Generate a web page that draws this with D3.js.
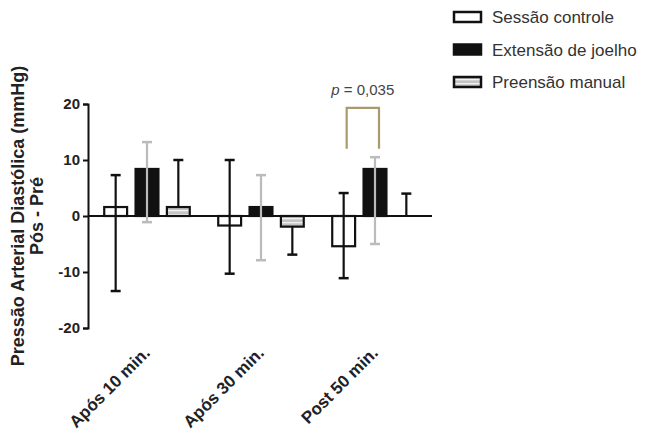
<!DOCTYPE html>
<html>
<head>
<meta charset="utf-8">
<script src="https://d3js.org/d3.v7.min.js"></script>
<style>
  body { margin: 0; background: #fff; }
  text { font-family: Arial, "Liberation Sans", sans-serif; }
</style>
</head>
<body>
<svg width="650" height="436"></svg>
<script>
var svg = d3.select("svg"),
    width = +svg.attr("width"),
    height = +svg.attr("height");

// data
var groups = ["Após 10 min.", "Após 30 min.", "Post 50 min."];
var series = ["Sessão controle", "Extensão de joelho", "Preensão manual"];

var controle = [1.6, -1.7, -5.4],
    controleLow = [-13.4, -10.3, -11.1],
    controleHigh = [7.3, 10.0, 4.1];

var extensao = [8.4, 1.6, 8.4],
    extensaoLow = [-1.1, -7.9, -5.0],
    extensaoHigh = [13.2, 7.3, 10.5];

var preensao = [1.6, -1.9, 0],
    preensaoLow = [null, -6.9, null],
    preensaoHigh = [10.0, null, 4.0];

var yTicks = [-20, -10, 0, 10, 20];
var bracket = [12, 19.3];   // significance bracket, legs from 12 up to 19.3
var pText = "0,035";

var fills = ["#fff", "#111", "url(#stripes)"];
var errColors = ["#111", "#bbb", "#111"];

var defs = svg.append("defs");
var pat = defs.append("pattern")
    .attr("id", "stripes")
    .attr("patternUnits", "userSpaceOnUse")
    .attr("width", 6)
    .attr("height", 4);
pat.append("rect").attr("width", 6).attr("height", 4).attr("fill", "#c4c4c4");
pat.append("rect").attr("y", 2).attr("width", 6).attr("height", 1.3).attr("fill", "#f2f2f2");

var y = d3.scaleLinear()
    .domain([-20, 20])
    .range([328, 104]);

var x = d3.scaleBand()
    .domain(groups)
    .range([90, 432]);

var xSub = d3.scaleBand()
    .domain(series)
    .range([-47, 47])
    .paddingInner(0.27)
    .paddingOuter(0.135);

var rows = groups.map(function(g, i) {
  return [
    {g: g, s: series[0], v: controle[i], lo: controleLow[i], hi: controleHigh[i]},
    {g: g, s: series[1], v: extensao[i], lo: extensaoLow[i], hi: extensaoHigh[i]},
    {g: g, s: series[2], v: preensao[i], lo: preensaoLow[i], hi: preensaoHigh[i]}
  ];
});
var flat = [].concat.apply([], rows);

function cx(d) { return x(d.g) + x.bandwidth() / 2 + xSub(d.s) + xSub.bandwidth() / 2; }

// zero line
svg.append("line")
    .attr("x1", 88).attr("x2", 432)
    .attr("y1", y(0)).attr("y2", y(0))
    .attr("stroke", "#111")
    .attr("stroke-width", 2);

// bars
svg.append("g").selectAll("rect")
  .data(flat.filter(function(d) { return d.v != 0; }))
  .enter().append("rect")
    .attr("x", function(d) { return cx(d) - xSub.bandwidth() / 2; })
    .attr("width", xSub.bandwidth())
    .attr("y", function(d) { return y(Math.max(0, d.v)); })
    .attr("height", function(d) { return Math.abs(y(d.v) - y(0)); })
    .attr("fill", function(d) { return fills[series.indexOf(d.s)]; })
    .attr("stroke", "#111")
    .attr("stroke-width", 2.2);

// error bars
var eb = svg.append("g").selectAll("g")
  .data(flat)
  .enter().append("g")
    .attr("stroke", function(d) { return errColors[series.indexOf(d.s)]; })
    .attr("stroke-width", 2.2);

eb.append("line")
    .attr("x1", cx).attr("x2", cx)
    .attr("y1", function(d) { return y(d.hi != null ? d.hi : d.v); })
    .attr("y2", function(d) { return y(d.lo != null ? d.lo : d.v); });

eb.filter(function(d) { return d.hi != null; }).append("line")
    .attr("x1", function(d) { return cx(d) - 5; })
    .attr("x2", function(d) { return cx(d) + 5; })
    .attr("y1", function(d) { return y(d.hi); })
    .attr("y2", function(d) { return y(d.hi); })
    .attr("stroke-width", 2.5);

eb.filter(function(d) { return d.lo != null; }).append("line")
    .attr("x1", function(d) { return cx(d) - 5; })
    .attr("x2", function(d) { return cx(d) + 5; })
    .attr("y1", function(d) { return y(d.lo); })
    .attr("y2", function(d) { return y(d.lo); })
    .attr("stroke-width", 2.5);

// y axis
var yAxis = svg.append("g")
    .attr("transform", "translate(88,0)")
    .call(d3.axisLeft(y).tickValues(yTicks).tickSize(5).tickPadding(3)
      .tickFormat(function(d) { return String(d); }));
yAxis.select(".domain").attr("stroke", "#111").attr("stroke-width", 2);
yAxis.selectAll(".tick line").attr("stroke", "#111").attr("stroke-width", 2);
yAxis.selectAll(".tick text")
    .attr("font-size", 15)
    .attr("font-weight", "bold")
    .attr("fill", "#222")
    .style("font-family", "Arial, 'Liberation Sans', sans-serif");

// y title
var yt = svg.append("text")
    .attr("transform", "translate(24," + y(0) + ") rotate(-90)")
    .attr("text-anchor", "middle")
    .attr("font-size", 18)
    .attr("font-weight", "bold")
    .attr("fill", "#222");
yt.append("tspan").attr("x", 0).attr("y", 0).text("Pressão Arterial Diastólica (mmHg)");
yt.append("tspan").attr("x", 0).attr("y", 19).text("Pós - Pré");

// x labels
svg.append("g").selectAll("text")
  .data(groups)
  .enter().append("text")
    .attr("transform", function(d) {
      return "translate(" + (x(d) + x.bandwidth() / 2 + 4) + ",354) rotate(-45)";
    })
    .attr("text-anchor", "end")
    .attr("font-size", 17)
    .attr("font-weight", "bold")
    .attr("fill", "#222")
    .text(function(d) { return d; });

// significance bracket, between controle and extensao of last group
var last = rows[2];
var bx1 = cx(last[0]) + 3, bx2 = cx(last[1]) + 4;
svg.append("path")
    .attr("d", "M" + bx1 + "," + y(bracket[0]) + "V" + y(bracket[1]) + "H" + bx2 + "V" + y(bracket[0]))
    .attr("fill", "none")
    .attr("stroke", "#a89a6c")
    .attr("stroke-width", 2.2);

var pt = svg.append("text")
    .attr("x", (bx1 + bx2) / 2)
    .attr("y", 95)
    .attr("text-anchor", "middle")
    .attr("font-size", 15)
    .attr("fill", "#444");
pt.append("tspan").attr("font-style", "italic").text("p");
pt.append("tspan").text(" = " + pText);

// legend
var legend = svg.append("g").selectAll("g")
  .data(series)
  .enter().append("g")
    .attr("transform", function(d, i) { return "translate(454," + (12 + i * 32.5) + ")"; });

legend.append("rect")
    .attr("width", 27)
    .attr("height", 10)
    .attr("fill", function(d, i) { return fills[i]; })
    .attr("stroke", "#111")
    .attr("stroke-width", 2.5);

legend.append("text")
    .attr("x", 38)
    .attr("y", 11)
    .attr("font-size", 17)
    .attr("fill", "#333")
    .text(function(d) { return d; });
</script>
</body>
</html>
